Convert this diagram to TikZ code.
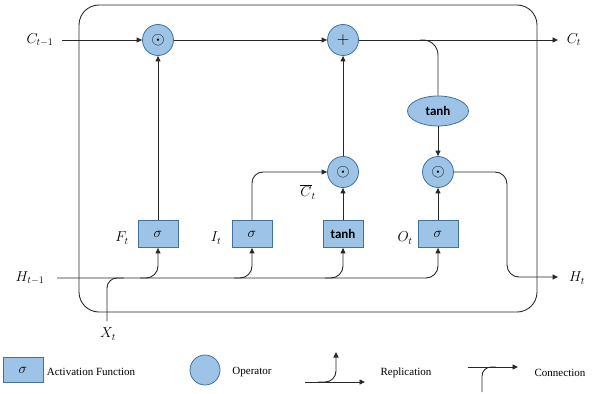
\documentclass[tikz,border=0pt]{standalone}
\usepackage{fontspec}
\setmainfont{Liberation Serif}
\newfontfamily\calib{Carlito}
\usetikzlibrary{arrows.meta,shapes.geometric}
\definecolor{opfill}{RGB}{157,195,230}
\definecolor{opdraw}{RGB}{65,113,156}
\definecolor{ln}{RGB}{40,40,40}
\tikzset{
  conn/.style={draw=ln, line width=0.9pt},
  arr/.style={conn, -{Triangle[length=5.5pt,width=5pt]}},
  opnode/.style={circle, minimum size=31pt, inner sep=0pt, fill=opfill, draw=opdraw, line width=0.8pt, font=\fontsize{18}{20}\selectfont},
  actbox/.style={rectangle, minimum width=40pt, minimum height=27pt, inner sep=0pt, fill=opfill, draw=opdraw, line width=0.8pt, font=\fontsize{15}{17}\selectfont},
  tanhfont/.style={font=\calib\bfseries\fontsize{13}{15}\selectfont},
  lbl/.style={inner sep=0pt, font=\fontsize{14}{16}\selectfont},
  legtext/.style={inner sep=0pt, font=\fontsize{11}{13}\selectfont}
}
\begin{document}
\begin{tikzpicture}[x=1pt,y=-1pt]
\useasboundingbox (0,0) rectangle (604,393);
% outer cell
\draw[conn, rounded corners=20pt] (79,5) rectangle (537,312);
% operators
\node[opnode] (m1) at (158,40) {$\odot$};
\node[opnode] (add) at (343,40) {$+$};
\node[opnode] (m2) at (343,172) {$\odot$};
\node[opnode] (m3) at (438,172) {$\odot$};
\node[ellipse, minimum width=61pt, minimum height=30pt, inner sep=0pt, fill=opfill, draw=opdraw, line width=0.8pt, tanhfont] (tE) at (438,111) {tanh};
% activation boxes
\node[actbox] (F) at (158,234) {$\sigma$};
\node[actbox] (I) at (252,234) {$\sigma$};
\node[actbox, tanhfont] (T) at (343,234) {tanh};
\node[actbox] (O) at (438,234) {$\sigma$};
% labels
\node[lbl] (lC0) at (40,40) {$C_{t-1}$};
\node[lbl] (lC1) at (574,40) {$C_t$};
\node[lbl] (lH0) at (30,278) {$H_{t-1}$};
\node[lbl] (lH1) at (577,278) {$H_t$};
\node[lbl] (lX) at (108,334) {$X_t$};
\node[lbl] (lF) at (122,238) {$F_t$};
\node[lbl] (lI) at (216,238) {$I_t$};
\node[lbl] (lO) at (405,238) {$O_t$};
\node[lbl] (lCb) at (308,192) {$\overline{C}_t$};
% coordinates
\coordinate (Cin) at (62,40);
\coordinate (Cout) at (558,40);
\coordinate (Cbr) at (420,40);
\coordinate (Hin) at (57,278);
\coordinate (Hturn) at (507,277);
\coordinate (Hout) at (558,277);
\coordinate (Xin) at (107,321);
\coordinate (Xj) at (124,278);
\coordinate (bF) at (140,278);
\coordinate (bI) at (234,278);
\coordinate (bT) at (325,278);
% cell state line
\draw[arr] (Cin) -- (m1);
\draw[arr] (m1) -- (add);
\draw[arr] (add) -- (Cout);
\draw[conn, rounded corners=15pt] (Cbr) -| (tE.north);
\draw[arr] (tE) -- (m3);
% gates
\draw[arr] (F) -- (m1);
\draw[arr, rounded corners=11pt] (I.north) |- (m2.west);
\draw[arr] (T) -- (m2);
\draw[arr] (m2) -- (add);
\draw[arr] (O) -- (m3);
\draw[arr, rounded corners=12pt] (m3.east) -| (Hturn) -- (Hout);
% hidden state input line
\draw[arr, rounded corners=12pt] (Hin) -| (O.south);
\draw[arr, rounded corners=12pt] (bF) -| (F.south);
\draw[arr, rounded corners=12pt] (bI) -| (I.south);
\draw[arr, rounded corners=12pt] (bT) -| (T.south);
\draw[conn, rounded corners=10pt] (Xin) |- (Xj);
% legend
\node[actbox, minimum width=40pt, minimum height=25pt] (LB) at (23,370) {$\sigma$};
\node[legtext] (LBt) at (91,372) {Activation Function};
\node[opnode, minimum size=30pt] (LO) at (205,370) {};
\node[legtext] (LOt) at (252,372) {Operator};
\coordinate (r1) at (305,382);
\coordinate (r2) at (365,382);
\coordinate (rb) at (318,382);
\coordinate (rt) at (336,352);
\draw[arr] (r1) -- (r2);
\draw[arr, rounded corners=11pt] (rb) -| (rt);
\node[legtext] (LRt) at (406,373) {Replication};
\coordinate (c1) at (468,367);
\coordinate (c2) at (518,367);
\coordinate (cb) at (482,392);
\coordinate (cj) at (496,367);
\draw[arr] (c1) -- (c2);
\draw[conn, rounded corners=9pt] (cb) |- (cj);
\node[legtext] (LCt) at (560,373) {Connection};
\end{tikzpicture}
\end{document}
